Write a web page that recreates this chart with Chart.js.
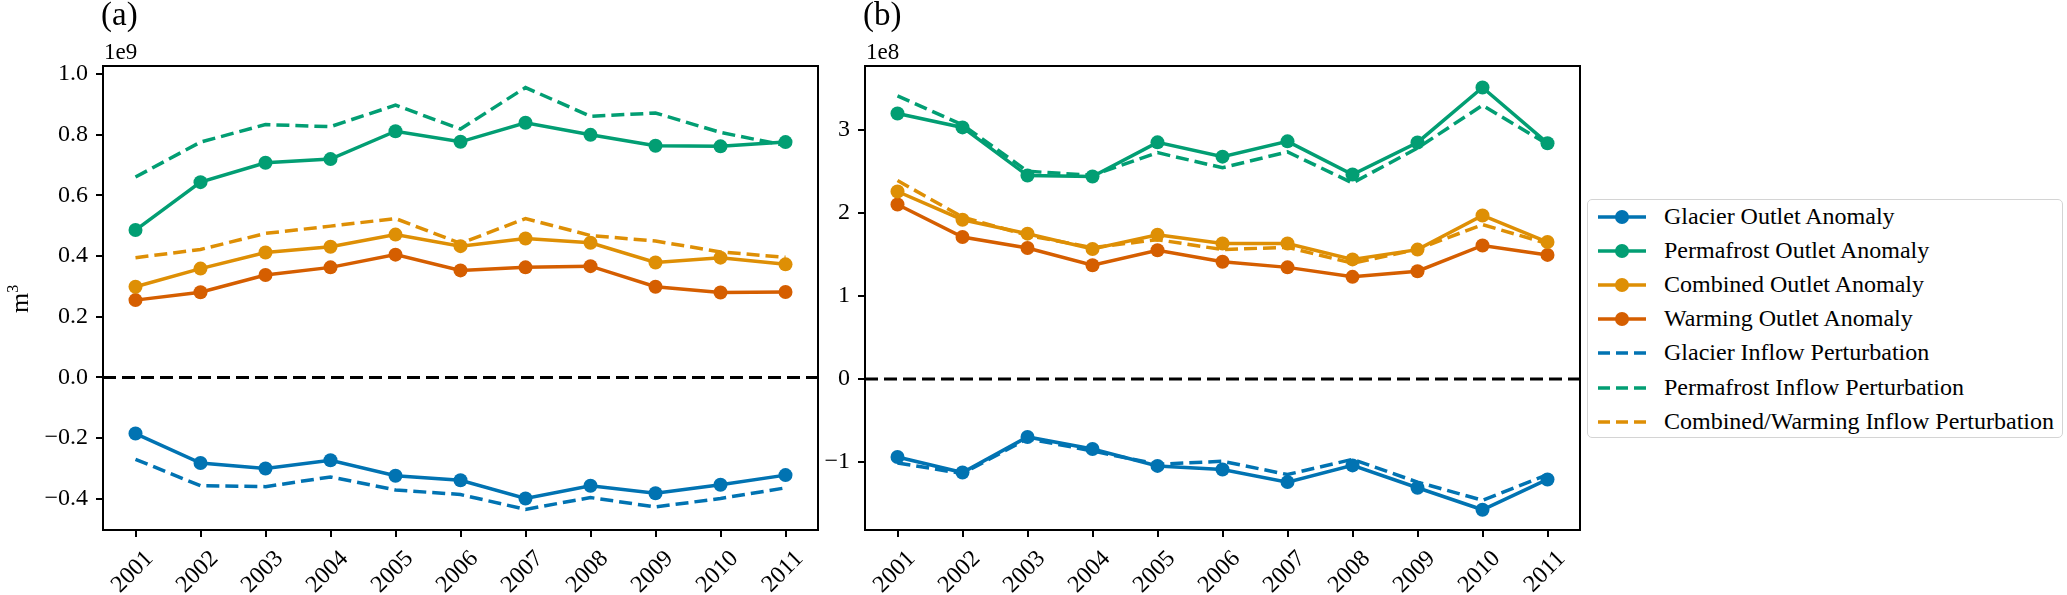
<!DOCTYPE html>
<html>
<head>
<meta charset="utf-8">
<script src="https://cdn.jsdelivr.net/npm/chart.js@4.4.1/dist/chart.umd.min.js"></script>
<style>
  body { margin: 0; background: #fff; width: 2067px; height: 595px; overflow: hidden; position: relative; font-family: 'Liberation Serif', 'DejaVu Serif', serif; color: #000; }
  canvas { position: absolute; top: 0; }
  .lab { position: absolute; white-space: nowrap; line-height: 1; font-family: 'Liberation Serif', serif; }
  #legend { position: absolute; left: 1587px; top: 199px; width: 476px; height: 239px; box-sizing: border-box; border: 1.5px solid #d4d4d4; border-radius: 5px; background: #fff; }
  .row { position: absolute; left: 0; height: 34px; width: 470px; }
  .row svg { position: absolute; left: 9px; top: 0; }
  .row span { position: absolute; left: 76px; top: 4px; font-size: 24px; line-height: 1; }
</style>
</head>
<body>
<canvas id="panelA" width="830" height="595" style="left:0px"></canvas>
<canvas id="panelB" width="770" height="595" style="left:820px"></canvas>
<div class="lab" style="left:101px; top:-2px; font-size:33px">(a)</div>
<div class="lab" style="left:863px; top:-2px; font-size:33px">(b)</div>
<div class="lab" style="left:104px; top:40px; font-size:23px">1e9</div>
<div class="lab" style="left:866px; top:40px; font-size:23px">1e8</div>
<div class="lab" style="left:2px; top:284px; font-size:26px; transform: rotate(-90deg); transform-origin: 16px 13px;">m<sup style="font-size:16px">3</sup></div>
<div id="legend"></div>
<script>
var years = ['2001', '2002', '2003', '2004', '2005', '2006', '2007', '2008', '2009', '2010', '2011'];

// panel (a), units of 1e9 m3
var glacierOutletA    = [-0.185, -0.282, -0.300, -0.273, -0.324, -0.339, -0.399, -0.357, -0.382, -0.354, -0.322];
var permafrostOutletA = [0.486, 0.644, 0.708, 0.720, 0.812, 0.777, 0.840, 0.800, 0.764, 0.762, 0.776];
var combinedOutletA   = [0.299, 0.359, 0.412, 0.431, 0.471, 0.433, 0.458, 0.444, 0.379, 0.395, 0.373];
var warmingOutletA    = [0.255, 0.281, 0.338, 0.363, 0.405, 0.353, 0.363, 0.367, 0.299, 0.280, 0.282];
var glacierInflowA    = [-0.270, -0.357, -0.360, -0.328, -0.371, -0.386, -0.435, -0.396, -0.427, -0.399, -0.364];
var permafrostInflowA = [0.661, 0.776, 0.834, 0.827, 0.898, 0.819, 0.956, 0.861, 0.872, 0.808, 0.765];
var combinedInflowA   = [0.395, 0.422, 0.475, 0.499, 0.524, 0.442, 0.524, 0.468, 0.450, 0.414, 0.396];

// panel (b), units of 1e8 m3
var glacierOutletB    = [-0.938, -1.126, -0.697, -0.842, -1.046, -1.090, -1.241, -1.040, -1.309, -1.574, -1.209];
var permafrostOutletB = [3.200, 3.032, 2.452, 2.440, 2.852, 2.680, 2.864, 2.464, 2.851, 3.513, 2.842];
var combinedOutletB   = [2.260, 1.920, 1.752, 1.568, 1.740, 1.633, 1.633, 1.442, 1.560, 1.971, 1.651];
var warmingOutletB    = [2.104, 1.712, 1.580, 1.372, 1.552, 1.414, 1.346, 1.232, 1.300, 1.610, 1.496];
var glacierInflowB    = [-1.010, -1.138, -0.717, -0.866, -1.026, -0.990, -1.150, -0.967, -1.241, -1.460, -1.150];
var permafrostInflowB = [3.412, 3.064, 2.504, 2.455, 2.728, 2.546, 2.737, 2.363, 2.783, 3.298, 2.830];
var combinedInflowB   = [2.392, 1.952, 1.732, 1.584, 1.680, 1.560, 1.588, 1.396, 1.565, 1.861, 1.633];

var ticksA = [-0.4, -0.2, 0.0, 0.2, 0.4, 0.6, 0.8, 1.0];
var ticksB = [-1, 0, 1, 2, 3];

var labels = ['Glacier Outlet Anomaly', 'Permafrost Outlet Anomaly', 'Combined Outlet Anomaly', 'Warming Outlet Anomaly',
              'Glacier Inflow Perturbation', 'Permafrost Inflow Perturbation', 'Combined/Warming Inflow Perturbation'];
var colors = ['#0173B2', '#029E73', '#DE8F05', '#D55E00', '#0173B2', '#029E73', '#DE8F05'];
var dashed = [false, false, false, false, true, true, true];

var serif = '"Liberation Serif", "Times New Roman", serif';
var dash = [13, 6];

Chart.defaults.font.family = serif;

function makeSets(series) {
  return series.map(function (vals, i) {
    return {
      label: labels[i],
      data: vals,
      borderColor: colors[i],
      backgroundColor: colors[i],
      borderWidth: 3.5,
      borderDash: dashed[i] ? dash : [],
      tension: 0,
      fill: false,
      pointRadius: dashed[i] ? 0 : 7,
      pointHoverRadius: 0,
      pointBorderWidth: 0,
      pointBackgroundColor: colors[i],
      order: dashed[i] ? 1 : 0
    };
  });
}

// zero line and full box round the plot area
var framePlugin = {
  id: 'frame',
  beforeDatasetsDraw: function (chart) {
    var a = chart.chartArea, ctx = chart.ctx;
    var y0 = chart.scales.y.getPixelForValue(0);
    ctx.save();
    ctx.strokeStyle = '#000';
    ctx.lineWidth = 3;
    ctx.setLineDash(dash);
    ctx.beginPath();
    ctx.moveTo(a.left, y0);
    ctx.lineTo(a.right, y0);
    ctx.stroke();
    ctx.restore();
  },
  afterDraw: function (chart) {
    var a = chart.chartArea, ctx = chart.ctx;
    ctx.save();
    ctx.strokeStyle = '#000';
    ctx.lineWidth = 2;
    ctx.strokeRect(a.left, a.top, a.right - a.left, a.bottom - a.top);
    ctx.restore();
  }
};

function makeOptions(yMin, yMax, yTicks, yWidth, padRight, fmt) {
  return {
    responsive: false,
    animation: false,
    devicePixelRatio: 1,
    layout: { padding: { top: 66, right: padRight, left: 0, bottom: 0 } },
    plugins: { legend: { display: false }, tooltip: { enabled: false } },
    scales: {
      x: {
        type: 'category',
        offset: true,
        grid: { display: true, drawOnChartArea: false, drawTicks: true, tickLength: 7, color: '#000', lineWidth: 2, offset: false },
        border: { display: true, color: '#000', width: 2 },
        ticks: { minRotation: 45, maxRotation: 45, autoSkip: false, color: '#000', font: { family: serif, size: 24 }, padding: 8, labelOffset: 14 },
        afterFit: function (s) { s.height = 65; }
      },
      y: {
        type: 'linear',
        min: yMin,
        max: yMax,
        grid: { display: true, drawOnChartArea: false, drawTicks: true, tickLength: 7, color: '#000', lineWidth: 2 },
        border: { display: true, color: '#000', width: 2 },
        ticks: { color: '#000', font: { family: serif, size: 24 }, padding: 8, callback: fmt },
        afterBuildTicks: function (s) { s.ticks = yTicks.map(function (v) { return { value: v }; }); },
        afterFit: function (s) { s.width = yWidth; }
      }
    }
  };
}

function fmtA(v) { return v.toFixed(1).replace('-', '\u2212'); }
function fmtB(v) { return String(v).replace('-', '\u2212'); }

var chartA = new Chart(document.getElementById('panelA').getContext('2d'), {
  type: 'line',
  data: {
    labels: years,
    datasets: makeSets([glacierOutletA, permafrostOutletA, combinedOutletA, warmingOutletA, glacierInflowA, permafrostInflowA, combinedInflowA])
  },
  options: makeOptions(-0.503, 1.027, ticksA, 103, 12, fmtA),
  plugins: [framePlugin]
});

var chartB = new Chart(document.getElementById('panelB').getContext('2d'), {
  type: 'line',
  data: {
    labels: years,
    datasets: makeSets([glacierOutletB, permafrostOutletB, combinedOutletB, warmingOutletB, glacierInflowB, permafrostInflowB, combinedInflowB])
  },
  options: makeOptions(-1.818, 3.772, ticksB, 45, 10, fmtB),
  plugins: [framePlugin]
});

// legend built from the same labels / colours
var legend = document.getElementById('legend');
labels.forEach(function (name, i) {
  var row = document.createElement('div');
  row.className = 'row';
  row.style.top = (0 + i * 34.1) + 'px';
  var svg = '<svg width="50" height="34">' +
    '<line x1="1" y1="17" x2="49" y2="17" stroke="' + colors[i] + '" stroke-width="3.5"' +
    (dashed[i] ? ' stroke-dasharray="12,6"' : '') + '/>' +
    (dashed[i] ? '' : '<circle cx="25" cy="17" r="7" fill="' + colors[i] + '"/>') + '</svg>';
  row.innerHTML = svg + '<span>' + name + '</span>';
  legend.appendChild(row);
});
</script>
</body>
</html>
